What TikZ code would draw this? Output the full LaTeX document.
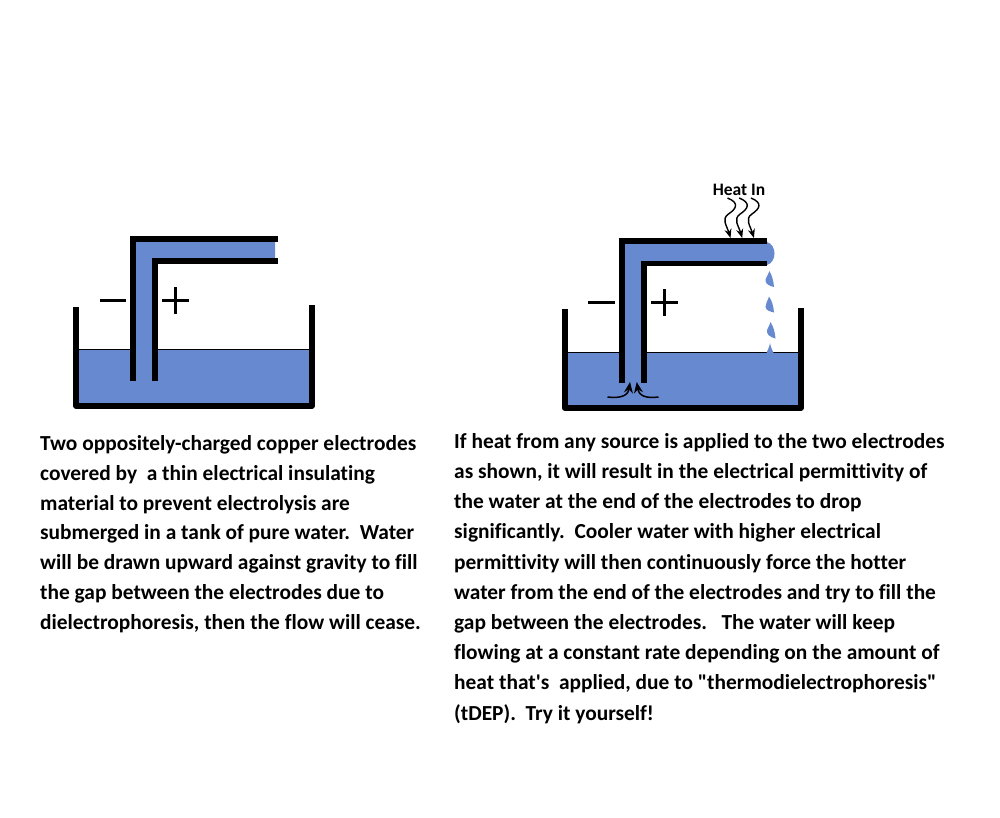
\documentclass[tikz,border=0pt]{standalone}
\usepackage{fontspec}
\newfontfamily\carl[Ligatures=CommonOff]{Carlito}
\usetikzlibrary{arrows.meta}
\definecolor{water}{HTML}{6789D0}
\newcommand{\dsp}{\ \ }
\tikzset{
  x=1pt,y=-1pt,
  wall/.style={line width=5.8pt,black,line join=round},
  elec/.style={line width=5.8pt,black,line join=miter},
  sign/.style={line width=3pt,black},
  surface/.style={line width=1pt,black},
  blurb/.style={font=\carl\bfseries\fontsize{21.4}{29.9}\selectfont\frenchspacing,align=left,anchor=north west,inner sep=0pt,text=black},
  blurbwide/.style={blurb,font=\carl\bfseries\fontsize{21.4}{30.2}\selectfont\frenchspacing},
  flow/.style={line width=1.5pt,black,-{Stealth[length=11pt,width=9pt]}},
  heat/.style={line width=1.4pt,black,-{Stealth[length=9pt,width=7pt]}},
  drop/.style={fill=water,draw=none},
}
\begin{document}
\begin{tikzpicture}
\useasboundingbox (0,0) rectangle (1000,817);
% LEFT
\fill[water] (76,349) rectangle (312,406);
\draw[surface] (76,349) -- (312,349);
\fill[water] (133,239) -- (275,239) -- (275,261) -- (155,261) -- (155,381) -- (133,381) -- cycle;
\draw[wall] (76,307) -- (76,406) -- (312,406) -- (312,305);
\draw[elec] (133,381) -- (133,239) -- (278,239);
\draw[elec] (155,381) -- (155,261) -- (278,261);
\draw[sign] (99.5,300) -- (126,300);
\draw[sign] (162,300) -- (189,300) (175.7,287) -- (175.7,314);
\node[blurb] (lefttext) at (40,435) {Two oppositely-charged copper electrodes\\covered by\dsp a thin electrical insulating\\material to prevent electrolysis are\\submerged in a tank of pure water.\dsp Water\\will be drawn upward against gravity to fill\\the gap between the electrodes due to\\dielectrophoresis, then the flow will cease.};
% RIGHT
\fill[water] (565,352) rectangle (801,408);
\draw[surface] (565,352) -- (801,352);
\fill[water] (622,241) -- (767,241) -- (767,242) .. controls (777,245) and (777,262) .. (767,265) -- (767,263.5) -- (644,263.5) -- (644,383) -- (622,383) -- cycle;
\draw[wall] (564.8,309) -- (564.8,408) -- (801,408) -- (801,307.5);
\draw[elec] (621.8,383) -- (621.8,241) -- (767,241);
\draw[elec] (644,383) -- (644,263.5) -- (767,263.5);
\draw[sign] (588,302) -- (615,302);
\draw[sign] (651,302) -- (678,302) (664,289) -- (664,316);
\fill[drop] (769.3,271) .. controls (768,276) and (765,278) .. (765.5,281) .. controls (766,284.5) and (770,286) .. (774,287) .. controls (773.5,281) and (772,275) .. (769.3,271) -- cycle;
\fill[drop] (769,296.5) .. controls (768,301) and (765,303) .. (765.5,307) .. controls (766,310.5) and (770,311.5) .. (774,312.5) .. controls (773.5,306) and (772,301) .. (769,296.5) -- cycle;
\fill[drop] (770.5,322) .. controls (769.5,326) and (766.5,329) .. (767,332) .. controls (767.5,335.5) and (771.5,337.5) .. (775.5,338.5) .. controls (775,332) and (773.5,327) .. (770.5,322) -- cycle;
\fill[drop] (770,343) .. controls (769.5,347) and (767.5,350) .. (766.5,353) -- (773.5,353) .. controls (772.5,350) and (770.5,347) .. (770,343) -- cycle;
\coordinate (fa1) at (607.5,397);
\coordinate (fa2) at (630,382);
\coordinate (fb1) at (658.5,397);
\coordinate (fb2) at (636.7,382);
\draw[flow] (fa1) .. controls (620,398.5) and (628,396) .. (fa2);
\draw[flow] (fb1) .. controls (646,398.5) and (639,396) .. (fb2);
\node[font=\carl\bfseries\fontsize{17.5}{20}\selectfont,inner sep=0pt] (heatlabel) at (739,190) {Heat In};
\foreach \n/\d in {a/0,b/11.7,c/23.4}{
  \coordinate (h\n1) at ({727.5+\d},198);
  \coordinate (h\n2) at ({730.5+\d},238);
  \draw[heat] (h\n1) .. controls ({740+\d},203) and ({736+\d},209) .. ({728.5+\d},214) .. controls ({721+\d},219) and ({727+\d},226) .. (h\n2);
}
\node[blurbwide] (righttext) at (454,433) {If heat from any source is applied to the two electrodes\\as shown, it will result in the electrical permittivity of\\the water at the end of the electrodes to drop\\significantly.\dsp Cooler water with higher electrical\\permittivity will then continuously force the hotter\\water from the end of the electrodes and try to fill the\\gap between the electrodes.\dsp\ The water will keep\\flowing at a constant rate depending on the amount of\\heat that's\dsp applied, due to "thermodielectrophoresis"\\(tDEP).\dsp Try it yourself!};
\end{tikzpicture}
\end{document}
